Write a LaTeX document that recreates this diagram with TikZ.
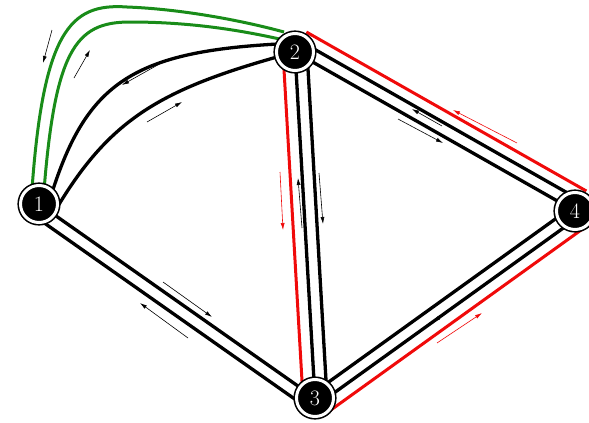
\documentclass[tikz,border=0pt]{standalone}
\usetikzlibrary{calc,arrows.meta,backgrounds}
\definecolor{grn}{RGB}{25,140,25}
\definecolor{rd}{RGB}{240,10,10}
\newcommand\offL[4]{\draw[#1] ($(#2)!#4!90:(#3)$) -- ($(#3)!#4!-90:(#2)$);}
\newcommand\offR[4]{\draw[#1] ($(#2)!#4!-90:(#3)$) -- ($(#3)!#4!90:(#2)$);}
\begin{document}
\begin{tikzpicture}[x=1pt,y=1pt,
  blk/.style={line width=3.3pt,black},
  redl/.style={line width=3pt,rd},
  grnl/.style={line width=3pt,grn},
  arr/.style={line width=0.6pt,-{Latex[length=7pt,width=4pt]}},
  vtx/.style={circle,fill=black,draw=black,line width=1.6pt,double=white,double distance=3pt,minimum size=37pt,inner sep=0pt,text=white,font=\fontsize{22}{22}\selectfont}]
\useasboundingbox (0,0) rectangle (589,-423);
\node[vtx] (n1) at (39,-204) {1};
\node[vtx] (n2) at (295,-52) {2};
\node[vtx] (n3) at (315,-398) {3};
\node[vtx] (n4) at (575,-211) {4};
\begin{scope}[on background layer]
% 1-2 curves
\draw[grnl] (n1.center) ++(-8,0) coordinate (g1s) (g1s) .. controls (42,-30) and (70,-3) .. (127,-7) .. controls (180,-9) and (240,-20) .. (284,-32);
\draw[grnl] (n1.center) ++(4,0) coordinate (g2s) (g2s) .. controls (54,-50) and (75,-22) .. (130,-22) .. controls (190,-22) and (240,-30) .. (284,-40);
\draw[blk] (n1.center) ++(11,5) coordinate (b1s) (b1s) .. controls (85,-85) and (130,-52) .. (278,-44);
\draw[blk] (n1.center) ++(19,-2) coordinate (b2s) (b2s) .. controls (110,-120) and (160,-90) .. (277,-57);
% 2-3
\offR{redl}{n2}{n3}{12pt}
\draw[blk] (n2.center) -- (n3.center);
\offL{blk}{n2}{n3}{12pt}
% 2-4
\draw[blk] (n2.center) -- (n4.center);
\offL{blk}{n2}{n4}{12pt}
\offL{redl}{n2}{n4}{23pt}
% 3-4
\offL{blk}{n3}{n4}{5pt}
\offR{blk}{n3}{n4}{7pt}
\offR{redl}{n3}{n4}{19pt}
% 1-3
\draw[blk] (n1.center) -- (n3.center);
\offR{blk}{n1}{n3}{12.5pt}
\end{scope}
% direction arrows
\coordinate (a1s) at (52,-30);   \coordinate (a1e) at (43,-63);
\coordinate (a2s) at (74,-78);   \coordinate (a2e) at (90,-50);
\coordinate (a3s) at (163,-62);  \coordinate (a3e) at (122,-85);
\coordinate (a4s) at (147,-122); \coordinate (a4e) at (182,-102);
\coordinate (a5s) at (280,-172); \coordinate (a5e) at (283,-230);
\coordinate (a6s) at (302,-228); \coordinate (a6e) at (298,-178);
\coordinate (a7s) at (319,-173); \coordinate (a7e) at (323,-224);
\coordinate (a8s) at (398,-119); \coordinate (a8e) at (443,-143);
\coordinate (a9s) at (442,-126); \coordinate (a9e) at (412,-109);
\coordinate (a10s) at (517,-143); \coordinate (a10e) at (453,-110);
\coordinate (a11s) at (163,-282); \coordinate (a11e) at (212,-317);
\coordinate (a12s) at (188,-338); \coordinate (a12e) at (140,-303);
\coordinate (a13s) at (474,-293); \coordinate (a13e) at (433,-322);
\coordinate (a14s) at (437,-343); \coordinate (a14e) at (482,-313);
\draw[arr] (a1s) -- (a1e);
\draw[arr] (a2s) -- (a2e);
\draw[arr] (a3s) -- (a3e);
\draw[arr] (a4s) -- (a4e);
\draw[arr,rd] (a5s) -- (a5e);
\draw[arr] (a6s) -- (a6e);
\draw[arr] (a7s) -- (a7e);
\draw[arr] (a8s) -- (a8e);
\draw[arr] (a9s) -- (a9e);
\draw[arr,rd] (a10s) -- (a10e);
\draw[arr] (a11s) -- (a11e);
\draw[arr] (a12s) -- (a12e);
\draw[arr] (a13s) -- (a13e);
\draw[arr,rd] (a14s) -- (a14e);
\end{tikzpicture}
\end{document}
